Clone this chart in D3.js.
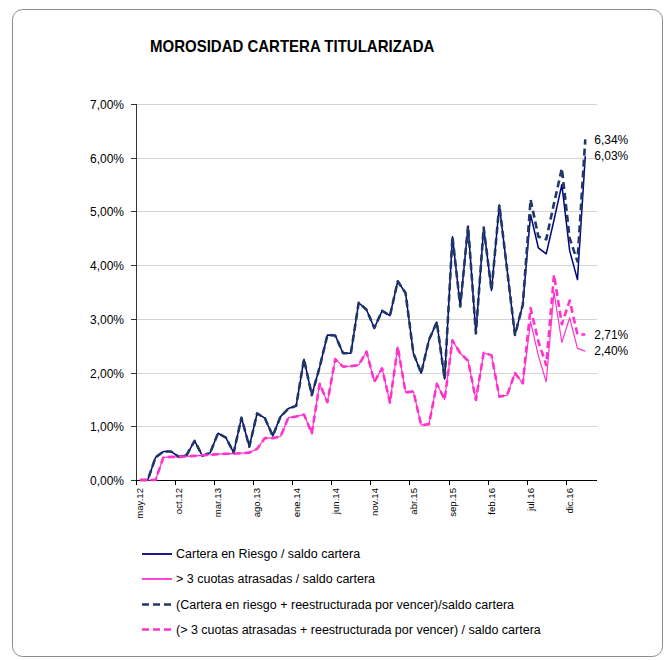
<!DOCTYPE html>
<html>
<head>
<meta charset="utf-8">
<script src="https://cdn.jsdelivr.net/npm/d3@7"></script>
<style>
  body { margin: 0; background: #fff; }
  svg { display: block; font-family: "Liberation Sans", Arial, sans-serif; }
  .grid { stroke: #d4d4d4; stroke-width: 1; }
  .axis-label { font-size: 12px; fill: #000; }
  .month-label { font-size: 9.6px; fill: #000; }
  .legend-text { font-size: 12.5px; fill: #000; }
</style>
</head>
<body>
<div id="chart"></div>
<script>
// categorias (meses) -- la ultima sin dato
const months = [
  'may.12','jun.12','jul.12','ago.12','sep.12','oct.12','nov.12','dic.12',
  'ene.13','feb.13','mar.13','abr.13','may.13','jun.13','jul.13','ago.13','sep.13','oct.13','nov.13','dic.13',
  'ene.14','feb.14','mar.14','abr.14','may.14','jun.14','jul.14','ago.14','sep.14','oct.14','nov.14','dic.14',
  'ene.15','feb.15','mar.15','abr.15','may.15','jun.15','jul.15','ago.15','sep.15','oct.15','nov.15','dic.15',
  'ene.16','feb.16','mar.16','abr.16','may.16','jun.16','jul.16','ago.16','sep.16','oct.16','nov.16','dic.16',
  'ene.17','feb.17','mar.17'
];

// % mensual
const riesgo = [
  0, 0, 0.42, 0.53, 0.53, 0.43, 0.47, 0.73, 0.45, 0.51,
  0.87, 0.79, 0.51, 1.16, 0.62, 1.24, 1.15, 0.82, 1.18, 1.33,
  1.38, 2.25, 1.58, 2.10, 2.70, 2.69, 2.36, 2.36, 3.30, 3.17,
  2.83, 3.15, 3.06, 3.70, 3.48, 2.36, 1.99, 2.61, 2.94, 1.88,
  4.53, 3.23, 4.73, 2.73, 4.70, 3.53, 5.12, 3.91, 2.70, 3.26,
  4.94, 4.32, 4.21, 4.84, 5.50, 4.27, 3.73, 6.03
];
const atrasadas = [
  0, 0, 0, 0.42, 0.43, 0.43, 0.44, 0.45, 0.46, 0.47,
  0.48, 0.49, 0.49, 0.50, 0.51, 0.58, 0.78, 0.78, 0.81, 1.16,
  1.18, 1.22, 0.87, 1.79, 1.45, 2.25, 2.11, 2.12, 2.14, 2.39,
  1.83, 2.08, 1.44, 2.48, 1.63, 1.65, 1.02, 1.04, 1.79, 1.50,
  2.60, 2.36, 2.22, 1.49, 2.37, 2.32, 1.55, 1.58, 1.99, 1.80,
  2.95, 2.31, 1.83, 3.50, 2.56, 3.02, 2.45, 2.40
];
const riesgoReest = [
  0, 0, 0.42, 0.53, 0.53, 0.43, 0.47, 0.73, 0.45, 0.51,
  0.87, 0.79, 0.51, 1.16, 0.62, 1.24, 1.15, 0.82, 1.18, 1.33,
  1.38, 2.25, 1.58, 2.10, 2.70, 2.69, 2.36, 2.36, 3.30, 3.17,
  2.83, 3.15, 3.06, 3.70, 3.48, 2.36, 1.99, 2.61, 2.94, 1.88,
  4.53, 3.23, 4.73, 2.73, 4.70, 3.53, 5.12, 3.91, 2.70, 3.26,
  5.22, 4.53, 4.48, 5.15, 5.80, 4.50, 4.07, 6.34
];
const atrasadasReest = [
  0, 0, 0, 0.42, 0.43, 0.43, 0.44, 0.45, 0.46, 0.47,
  0.48, 0.49, 0.49, 0.50, 0.51, 0.58, 0.78, 0.78, 0.81, 1.16,
  1.18, 1.22, 0.87, 1.79, 1.45, 2.25, 2.11, 2.12, 2.14, 2.39,
  1.83, 2.08, 1.44, 2.48, 1.63, 1.65, 1.02, 1.04, 1.79, 1.50,
  2.60, 2.36, 2.22, 1.49, 2.37, 2.32, 1.55, 1.58, 1.99, 1.80,
  3.20, 2.58, 2.14, 3.82, 2.90, 3.34, 2.71, 2.71
];

const yTicks = [0, 1, 2, 3, 4, 5, 6, 7];
const tickEvery = 5;

const series = [
  { name: 'Cartera en Riesgo / saldo cartera', values: riesgo, color: '#000080', width: 1.5, dash: null },
  { name: '> 3 cuotas atrasadas / saldo cartera', values: atrasadas, color: '#ff33cc', width: 1.2, dash: null },
  { name: '(Cartera en riesgo + reestructurada por vencer)/saldo cartera', values: riesgoReest, color: '#1f3864', width: 2.6, dash: '7,4' },
  { name: '(> 3 cuotas atrasadas + reestructurada por vencer) / saldo cartera', values: atrasadasReest, color: '#ff33cc', width: 2.6, dash: '7,4' }
];

const W = 668, H = 660;
const plotL = 136, plotR = 597, plotT = 104, plotB = 480;
const fmt = v => v.toFixed(2).replace('.', ',') + '%';

const svg = d3.select('#chart').append('svg')
  .attr('width', W)
  .attr('height', H);

svg.append('rect')
  .attr('x', 12.5)
  .attr('y', 9.5)
  .attr('width', 650)
  .attr('height', 647)
  .attr('rx', 10)
  .attr('fill', '#fff')
  .attr('stroke', '#8c8c8c')
  .attr('stroke-width', 1);

svg.append('text')
  .attr('transform', 'translate(150,51.5) scale(1,1.14)')
  .attr('font-size', 15)
  .attr('font-weight', 'bold')
  .text('MOROSIDAD CARTERA TITULARIZADA');

const x = d3.scaleBand()
  .domain(months)
  .range([plotL, plotR])
  .paddingInner(0)
  .paddingOuter(0);
const xc = m => x(m) + x.bandwidth() / 2;

const y = d3.scaleLinear()
  .domain([0, 7])
  .range([plotB, plotT]);

// grid
const gG = svg.append('g');
yTicks.forEach(t => {
  if (t === 0) return;
  gG.append('line')
    .attr('class', 'grid')
    .attr('x1', plotL)
    .attr('x2', plotR)
    .attr('y1', Math.round(y(t)) + 0.5)
    .attr('y2', Math.round(y(t)) + 0.5);
});

// eje y
const gY = svg.append('g');
gY.append('line')
  .attr('x1', plotL + 0.5).attr('x2', plotL + 0.5)
  .attr('y1', plotT).attr('y2', plotB)
  .attr('stroke', '#333');
yTicks.forEach(t => {
  const yy = Math.round(y(t)) + 0.5;
  gY.append('line')
    .attr('x1', plotL - 5).attr('x2', plotL)
    .attr('y1', yy).attr('y2', yy)
    .attr('stroke', '#333');
  gY.append('text')
    .attr('class', 'axis-label')
    .attr('x', 124)
    .attr('y', yy)
    .attr('dy', '0.35em')
    .attr('text-anchor', 'end')
    .text(fmt(t));
});

// eje x
const gX = svg.append('g');
gX.append('line')
  .attr('x1', plotL).attr('x2', plotR)
  .attr('y1', plotB + 0.5).attr('y2', plotB + 0.5)
  .attr('stroke', '#000');
months.forEach((m, i) => {
  if (i % tickEvery !== 0) return;
  const tx = Math.round(x(m)) + 0.5;
  gX.append('line')
    .attr('x1', tx).attr('x2', tx)
    .attr('y1', plotB).attr('y2', plotB + 5)
    .attr('stroke', '#000');
  gX.append('text')
    .attr('class', 'month-label')
    .attr('transform', `translate(${xc(m)},${plotB + 8}) rotate(-90)`)
    .attr('dy', '0.35em')
    .attr('text-anchor', 'end')
    .text(m);
});

// series
const line = d3.line()
  .x((d, i) => xc(months[i]))
  .y(d => y(d));

const gS = svg.append('g');
series.forEach(s => {
  gS.append('path')
    .attr('d', line(s.values))
    .attr('fill', 'none')
    .attr('stroke', s.color)
    .attr('stroke-width', s.width)
    .attr('stroke-dasharray', s.dash)
    .attr('stroke-linejoin', 'round');
});

// etiquetas finales
series.forEach(s => {
  const last = s.values.length - 1;
  svg.append('text')
    .attr('class', 'axis-label')
    .attr('x', xc(months[last]) + 9)
    .attr('y', y(s.values[last]))
    .attr('dy', '0.35em')
    .text(fmt(s.values[last]));
});

// leyenda
const legendY = [554, 579, 604.5, 629.5];
const gL = svg.append('g');
series.forEach((s, i) => {
  gL.append('line')
    .attr('x1', 142).attr('x2', 172)
    .attr('y1', legendY[i]).attr('y2', legendY[i])
    .attr('stroke', s.color)
    .attr('stroke-width', s.dash ? 2.6 : 1.8)
    .attr('stroke-dasharray', s.dash);
  gL.append('text')
    .attr('class', 'legend-text')
    .attr('x', 176)
    .attr('y', legendY[i])
    .attr('dy', '0.35em')
    .text(s.name);
});
</script>
</body>
</html>
